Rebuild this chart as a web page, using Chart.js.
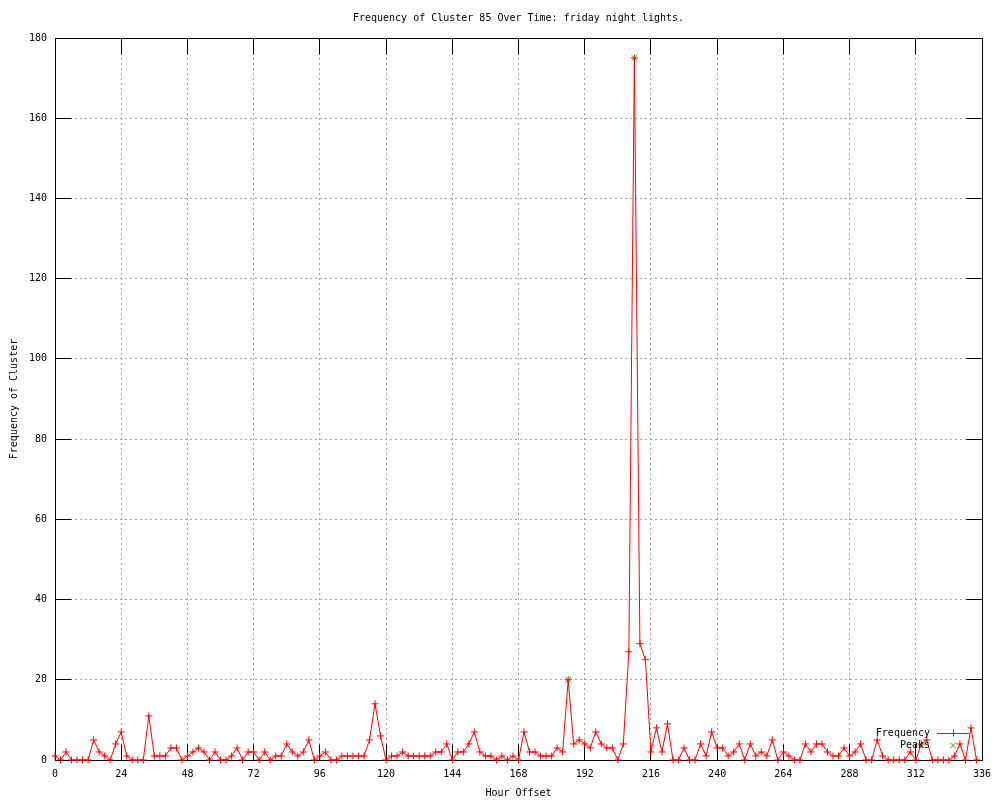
<!DOCTYPE html>
<html>
<head>
<meta charset="utf-8">
<title>Frequency of Cluster 85 Over Time</title>
<script src="https://cdn.jsdelivr.net/npm/chart.js@4.4.1/dist/chart.umd.min.js"></script>
<style>
  html, body { margin: 0; padding: 0; background: #fff; }
  #wrap { width: 1000px; height: 800px; }
</style>
</head>
<body>
<div id="wrap"><canvas id="clusterChart" width="1000" height="800"></canvas></div>
<script>
// ====== DATA ======
// hour offsets, one sample every 2 hours
const hourOffsets = [
    0, 2, 4, 6, 8, 10, 12, 14, 16, 18, 20, 22,
    24, 26, 28, 30, 32, 34, 36, 38, 40, 42, 44, 46,
    48, 50, 52, 54, 56, 58, 60, 62, 64, 66, 68, 70,
    72, 74, 76, 78, 80, 82, 84, 86, 88, 90, 92, 94,
    96, 98, 100, 102, 104, 106, 108, 110, 112, 114, 116, 118,
    120, 122, 124, 126, 128, 130, 132, 134, 136, 138, 140, 142,
    144, 146, 148, 150, 152, 154, 156, 158, 160, 162, 164, 166,
    168, 170, 172, 174, 176, 178, 180, 182, 184, 186, 188, 190,
    192, 194, 196, 198, 200, 202, 204, 206, 208, 210, 212, 214,
    216, 218, 220, 222, 224, 226, 228, 230, 232, 234, 236, 238,
    240, 242, 244, 246, 248, 250, 252, 254, 256, 258, 260, 262,
    264, 266, 268, 270, 272, 274, 276, 278, 280, 282, 284, 286,
    288, 290, 292, 294, 296, 298, 300, 302, 304, 306, 308, 310,
    312, 314, 316, 318, 320, 322, 324, 326, 328, 330, 332, 334
];
const frequency = [
    1, 0, 2, 0, 0, 0, 0, 5, 2, 1, 0, 4,
    7, 1, 0, 0, 0, 11, 1, 1, 1, 3, 3, 0,
    1, 2, 3, 2, 0, 2, 0, 0, 1, 3, 0, 2,
    2, 0, 2, 0, 1, 1, 4, 2, 1, 2, 5, 0,
    1, 2, 0, 0, 1, 1, 1, 1, 1, 5, 14, 6,
    0, 1, 1, 2, 1, 1, 1, 1, 1, 2, 2, 4,
    0, 2, 2, 4, 7, 2, 1, 1, 0, 1, 0, 1,
    0, 7, 2, 2, 1, 1, 1, 3, 2, 20, 4, 5,
    4, 3, 7, 4, 3, 3, 0, 4, 27, 175, 29, 25,
    2, 8, 2, 9, 0, 0, 3, 0, 0, 4, 1, 7,
    3, 3, 1, 2, 4, 0, 4, 1, 2, 1, 5, 0,
    2, 1, 0, 0, 4, 2, 4, 4, 2, 1, 1, 3,
    1, 2, 4, 0, 0, 5, 1, 0, 0, 0, 0, 2,
    0, 4, 5, 0, 0, 0, 0, 1, 4, 0, 8, 0
];
const peakHours = [186, 210];
const peakValues = [20, 175];

const xTicks = [0, 24, 48, 72, 96, 120, 144, 168, 192, 216, 240, 264, 288, 312, 336];
const yTicks = [0, 20, 40, 60, 80, 100, 120, 140, 160, 180];
const chartTitle = 'Frequency of Cluster 85 Over Time: friday night lights.';
// ==================

const FONT = "'DejaVu Sans Mono', 'Liberation Mono', monospace";
const RED = '#ff0000';
const GREEN = '#00c000';

Chart.defaults.font.family = FONT;
Chart.defaults.font.size = 10;
Chart.defaults.color = '#000';

// align like chart.js does for 1px lines
const align = (p) => Math.round(p - 0.5) + 0.5;

// gnuplot style border with inward tics on all four sides, title and key
const gnuplotLook = {
    id: 'gnuplotLook',
    beforeDatasetsDraw(chart) {
        const { ctx, chartArea: a, scales: { x, y } } = chart;
        const ticLen = 16;
        const L = align(a.left), R = align(a.right), T = align(a.top), B = align(a.bottom);
        ctx.save();
        ctx.strokeStyle = '#000';
        ctx.lineWidth = 1;
        ctx.setLineDash([]);
        ctx.beginPath();
        xTicks.forEach(v => {
            const px = align(x.getPixelForValue(v));
            ctx.moveTo(px, B); ctx.lineTo(px, B - ticLen);
            ctx.moveTo(px, T); ctx.lineTo(px, T + ticLen);
        });
        yTicks.forEach(v => {
            const py = align(y.getPixelForValue(v));
            ctx.moveTo(L, py); ctx.lineTo(L + ticLen, py);
            ctx.moveTo(R, py); ctx.lineTo(R - ticLen, py);
        });
        ctx.stroke();
        ctx.strokeRect(L, T, R - L, B - T);

        // title centred over the plot, like gnuplot does
        ctx.font = '10px ' + FONT;
        ctx.fillStyle = '#000';
        ctx.textAlign = 'center';
        ctx.textBaseline = 'middle';
        ctx.fillText(chartTitle, (a.left + a.right) / 2, 18);
        ctx.restore();
    },
    afterDatasetsDraw(chart) {
        // key in the lower right corner, inside the plot
        const { ctx, chartArea: a } = chart;
        const textRight = a.right - 52;
        const lineX1 = a.right - 45, lineX2 = a.right - 13;
        const mid = (lineX1 + lineX2) / 2;
        const row1 = a.bottom - 27, row2 = a.bottom - 14.5;
        ctx.save();
        ctx.font = '10px ' + FONT;
        ctx.fillStyle = '#000';
        ctx.textAlign = 'right';
        ctx.textBaseline = 'middle';
        ctx.fillText('Frequency', textRight, row1);
        ctx.fillText('Peaks', textRight, row2);

        ctx.strokeStyle = RED;
        ctx.lineWidth = 1;
        ctx.beginPath();
        ctx.moveTo(lineX1, align(row1)); ctx.lineTo(lineX2, align(row1));
        ctx.moveTo(align(mid), row1 - 3.5); ctx.lineTo(align(mid), row1 + 3.5);
        ctx.stroke();

        ctx.strokeStyle = GREEN;
        ctx.beginPath();
        ctx.moveTo(mid - 3, row2 - 3); ctx.lineTo(mid + 3, row2 + 3);
        ctx.moveTo(mid - 3, row2 + 3); ctx.lineTo(mid + 3, row2 - 3);
        ctx.stroke();
        ctx.restore();
    }
};

const ctx = document.getElementById('clusterChart').getContext('2d');
const clusterChart = new Chart(ctx, {
    type: 'line',
    data: {
        datasets: [
            {
                label: 'Frequency',
                data: hourOffsets.map((h, i) => ({ x: h, y: frequency[i] })),
                borderColor: RED,
                backgroundColor: RED,
                borderWidth: 1,
                pointStyle: 'cross',
                pointRadius: 3.5,
                pointBorderWidth: 1,
                pointBorderColor: RED,
                tension: 0,
                clip: false
            },
            {
                label: 'Peaks',
                data: peakHours.map((h, i) => ({ x: h, y: peakValues[i] })),
                showLine: false,
                borderColor: GREEN,
                backgroundColor: GREEN,
                pointStyle: 'crossRot',
                pointRadius: 4,
                pointBorderWidth: 1,
                pointBorderColor: GREEN,
                clip: false
            }
        ]
    },
    options: {
        responsive: false,
        animation: false,
        devicePixelRatio: 1,
        layout: { padding: { left: 0, right: 18, top: 38, bottom: 0 } },
        plugins: {
            legend: { display: false },
            tooltip: { enabled: false },
            title: { display: false }
        },
        scales: {
            x: {
                type: 'linear',
                min: 0,
                max: 336,
                afterBuildTicks: (s) => { s.ticks = xTicks.map(v => ({ value: v })); },
                afterFit: (s) => { s.height = 40; },
                ticks: { color: '#000', padding: 8, maxRotation: 0, autoSkip: false, font: { family: FONT, size: 10 } },
                grid: { color: '#a0a0a0', lineWidth: 1, drawTicks: false },
                border: { display: false, dash: [2, 3] },
                title: {
                    display: true,
                    text: 'Hour Offset',
                    color: '#000',
                    font: { family: FONT, size: 10 },
                    padding: { top: 0, bottom: 1 }
                }
            },
            y: {
                type: 'linear',
                min: 0,
                max: 180,
                afterBuildTicks: (s) => { s.ticks = yTicks.map(v => ({ value: v })); },
                afterFit: (s) => { s.width = 55; },
                ticks: { color: '#000', padding: 8, autoSkip: false, font: { family: FONT, size: 10 } },
                grid: { color: '#a0a0a0', lineWidth: 1, drawTicks: false },
                border: { display: false, dash: [2, 3] },
                title: {
                    display: true,
                    text: 'Frequency of Cluster',
                    color: '#000',
                    font: { family: FONT, size: 10 },
                    padding: { top: 8, bottom: 0 }
                }
            }
        }
    },
    plugins: [gnuplotLook]
});
</script>
</body>
</html>
